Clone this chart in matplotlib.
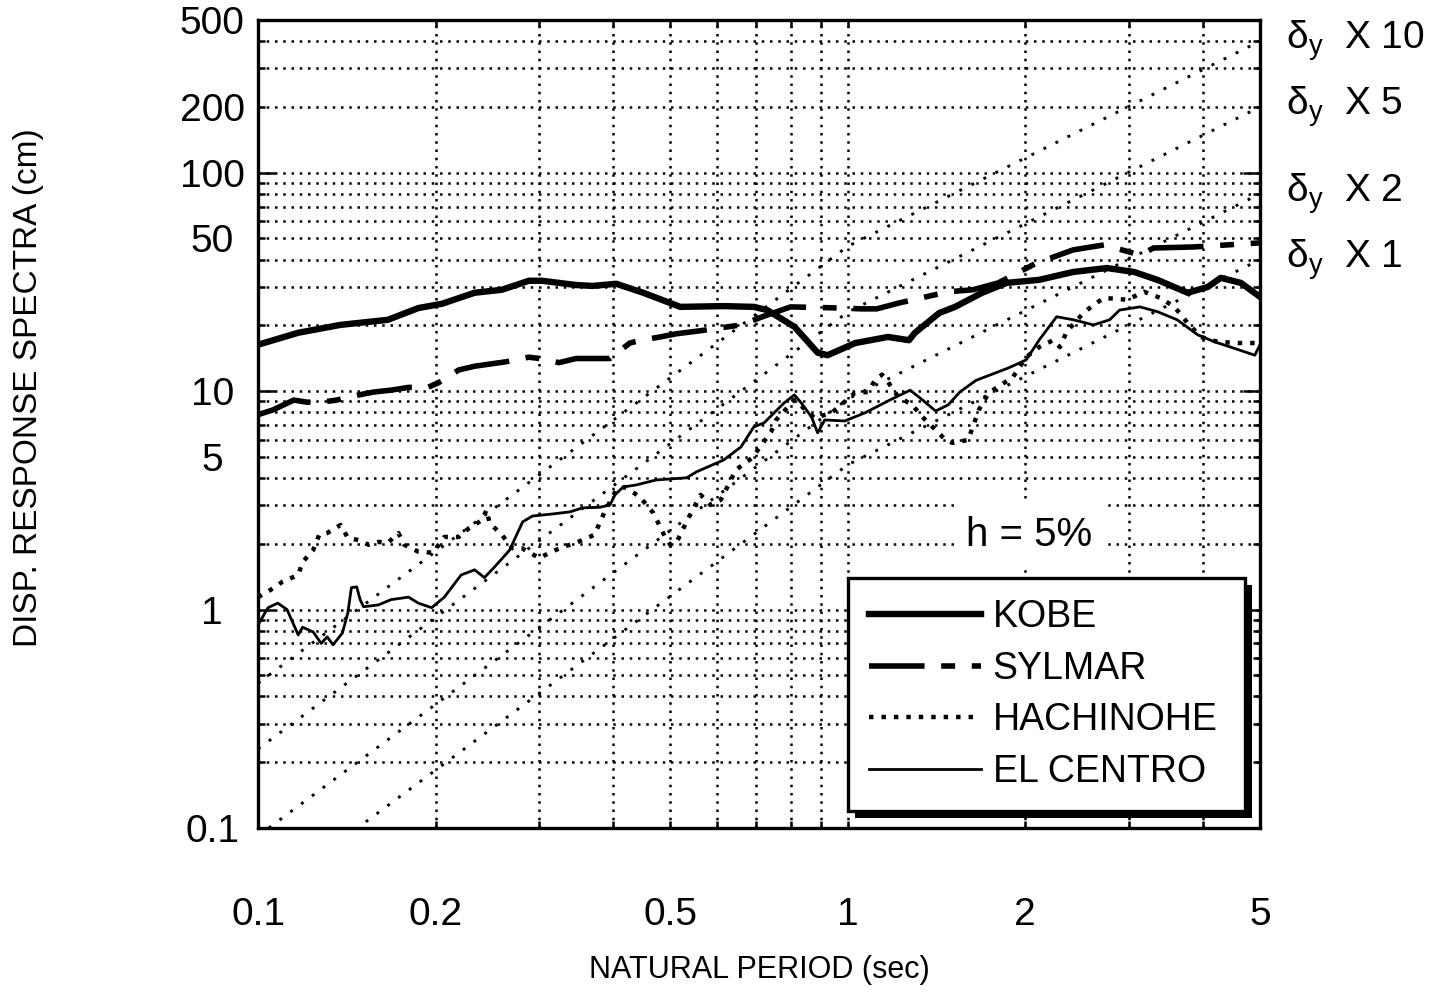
import matplotlib
matplotlib.use('Agg')
import matplotlib.pyplot as plt
from matplotlib.patches import Rectangle
from matplotlib.ticker import FixedLocator, FixedFormatter, FuncFormatter

plt.rcParams['font.family'] = ['Liberation Sans', 'DejaVu Sans']
plt.rcParams['mathtext.default'] = 'regular'

# natural period (sec) / displacement response (cm)
kobe_t = [0.100, 0.117, 0.138, 0.166, 0.187, 0.205, 0.233, 0.259, 0.288, 0.303,
          0.346, 0.369, 0.405, 0.450, 0.520, 0.616, 0.693, 0.730, 0.812, 0.889,
          0.924, 1.03, 1.17, 1.27, 1.30, 1.43, 1.52, 1.69, 1.86, 2.11,
          2.41, 2.75, 3.06, 3.35, 3.77, 4.08, 4.29, 4.64, 5.0]
kobe_d = [16.3, 18.5, 20.1, 21.2, 24.0, 25.1, 28.2, 29.1, 32.0, 32.0,
          30.6, 30.3, 31.0, 28.2, 24.3, 24.5, 24.3, 23.5, 19.7, 15.0,
          14.6, 16.6, 17.7, 17.1, 18.5, 22.8, 24.3, 28.2, 31.3, 32.3,
          35.1, 36.6, 35.1, 32.3, 28.2, 30.0, 33.0, 31.3, 27.0]

sylmar_t = [0.100, 0.106, 0.110, 0.115, 0.121, 0.128, 0.136, 0.148, 0.157, 0.168,
            0.180, 0.194, 0.202, 0.219, 0.233, 0.262, 0.288, 0.300, 0.324, 0.346,
            0.395, 0.427, 0.446, 0.481, 0.512, 0.563, 0.66, 0.72, 0.80, 0.977,
            1.055, 1.12, 1.22, 1.48, 1.63, 1.80, 2.09, 2.21, 2.41, 2.72,
            3.13, 3.30, 3.86, 5.00]
sylmar_d = [7.8, 8.2, 8.6, 9.1, 8.9, 8.9, 9.1, 9.6, 9.9, 10.1,
            10.4, 10.4, 10.9, 12.5, 13.0, 13.6, 14.3, 14.1, 13.5, 14.1,
            14.1, 16.6, 17.1, 17.7, 18.3, 18.9, 20.1, 22.0, 24.3, 24.0,
            23.8, 23.8, 25.3, 28.5, 29.1, 31.3, 38.6, 40.7, 44.3, 46.7,
            42.0, 45.2, 45.7, 47.7]

hachi_t = [0.100, 0.105, 0.110, 0.117, 0.119, 0.124, 0.127, 0.131, 0.138, 0.142,
           0.148, 0.154, 0.160, 0.166, 0.173, 0.177, 0.187, 0.198, 0.207, 0.219,
           0.228, 0.240, 0.244, 0.247, 0.259, 0.270, 0.280, 0.300, 0.312, 0.328,
           0.346, 0.372, 0.387, 0.405, 0.419, 0.444, 0.468, 0.490, 0.500, 0.512,
           0.537, 0.563, 0.585, 0.609, 0.624, 0.646, 0.688, 0.741, 0.756, 0.812,
           0.878, 0.939, 1.028, 1.082, 1.112, 1.143, 1.17, 1.218, 1.286, 1.338,
           1.392, 1.465, 1.506, 1.60, 1.668, 1.734, 1.906, 2.007, 2.11, 2.23,
           2.29, 2.35, 2.51, 2.61, 2.72, 2.98, 3.18, 3.39, 3.58, 3.77,
           3.97, 4.24, 4.59, 5.0]
hachi_d = [1.14, 1.23, 1.34, 1.44, 1.65, 1.87, 2.20, 2.24, 2.44, 2.13,
           2.08, 1.98, 2.04, 2.02, 2.24, 1.98, 1.84, 1.82, 2.15, 2.15,
           2.36, 2.57, 2.86, 2.49, 2.20, 1.91, 1.91, 1.72, 1.82, 1.93,
           2.02, 2.20, 2.80, 3.53, 3.64, 3.28, 2.77, 2.15, 1.98, 2.02,
           2.63, 3.35, 3.01, 3.18, 3.61, 4.36, 4.94, 6.50, 7.38, 9.12,
           7.54, 7.95, 9.81, 9.9, 11.2, 11.9, 11.0, 9.41, 8.65, 7.62,
           6.86, 5.98, 5.79, 5.98, 8.20, 9.81, 11.6, 14.3, 15.9, 17.1,
           15.9, 18.7, 22.8, 24.8, 26.7, 26.2, 28.5, 26.7, 24.3, 20.5,
           17.7, 16.8, 16.6, 16.6]

elc_t = [0.100, 0.104, 0.108, 0.112, 0.117, 0.119, 0.124, 0.128, 0.131, 0.134,
         0.139, 0.142, 0.144, 0.147, 0.149, 0.151, 0.160, 0.168, 0.180, 0.187,
         0.197, 0.207, 0.221, 0.233, 0.242, 0.252, 0.267, 0.281, 0.292, 0.316,
         0.338, 0.355, 0.380, 0.395, 0.403, 0.416, 0.438, 0.473, 0.533, 0.554,
         0.616, 0.659, 0.693, 0.721, 0.780, 0.812, 0.834, 0.868, 0.889, 0.914,
         0.988, 1.069, 1.189, 1.276, 1.338, 1.409, 1.48, 1.55, 1.65, 1.877,
         2.007, 2.11, 2.26, 2.415, 2.61, 2.78, 2.89, 3.13, 3.35, 3.62,
         3.92, 4.19, 4.46, 4.90, 5.0]
elc_d = [0.85, 1.02, 1.07, 1.00, 0.765, 0.83, 0.79, 0.70, 0.75, 0.69,
         0.78, 0.965, 1.26, 1.27, 1.11, 1.03, 1.05, 1.11, 1.14, 1.07,
         1.02, 1.14, 1.44, 1.52, 1.40, 1.57, 1.87, 2.52, 2.68, 2.74,
         2.80, 2.92, 2.94, 3.01, 3.35, 3.64, 3.72, 3.92, 4.01, 4.27,
         4.84, 5.55, 6.86, 7.15, 8.83, 9.61, 8.83, 7.62, 6.44, 7.38,
         7.30, 7.95, 9.21, 10.1, 9.12, 8.11, 8.65, 9.92, 11.2, 12.8,
         13.9, 17.1, 21.9, 21.2, 20.1, 21.2, 23.5, 24.3, 23.1, 21.2,
         18.1, 16.8, 15.9, 14.6, 16.3]

# yield displacement guide lines (delta_y x 10, x 5, x 2, x 1)
ref_t = [0.1, 1.0, 5.0]
ref_x10 = [0.46, 46, 400]
ref_x5 = [0.23, 23, 200]
ref_x2 = [0.092, 9.2, 80]
ref_x1 = [0.046, 4.6, 40]
ref_names = ['10', '5', '2', '1']

xticks_major = [0.1, 0.2, 0.5, 1, 2, 5]
xtick_labels = ['0.1', '0.2', '0.5', '1', '2', '5']
xticks_minor = [0.3, 0.4, 0.6, 0.7, 0.8, 0.9, 3, 4]
yticks_major = [0.1, 1, 10, 100]
ytick_labels = ['0.1', '1', '10', '100']
yticks_minor = [0.2, 0.3, 0.4, 0.5, 0.6, 0.7, 0.8, 0.9,
                2, 3, 4, 5, 6, 7, 8, 9,
                20, 30, 40, 50, 60, 70, 80, 90,
                200, 300, 400, 500]
yminor_labels = {5: '5', 50: '50', 200: '200', 500: '500'}

fig = plt.figure(figsize=(14.39, 9.94), dpi=100)
ax = fig.add_axes([0.1793, 0.167, 0.6963, 0.8129])
ax.set_xscale('log')
ax.set_yscale('log')
ax.set_xlim(0.1, 5)
ax.set_ylim(0.1, 500)

for vals in [ref_x10, ref_x5, ref_x2, ref_x1]:
    ax.plot(ref_t, vals, color='black', lw=2.1, ls=(0, (1, 3.6)), zorder=1.5)

ax.plot(kobe_t, kobe_d, color='black', lw=4.6, label='KOBE', zorder=3)
ax.plot(sylmar_t, sylmar_d, color='black', lw=4.0, ls=(0, (10, 3, 2.5, 3)),
        label='SYLMAR', zorder=3)
ax.plot(hachi_t, hachi_d, color='black', lw=3.2, ls=(0, (1, 1.8)),
        label='HACHINOHE', zorder=3)
ax.plot(elc_t, elc_d, color='black', lw=2.0, label='EL CENTRO', zorder=3)

ax.xaxis.set_major_locator(FixedLocator(xticks_major))
ax.xaxis.set_major_formatter(FixedFormatter(xtick_labels))
ax.xaxis.set_minor_locator(FixedLocator(xticks_minor))
ax.xaxis.set_minor_formatter(FuncFormatter(lambda v, p: ''))
ax.yaxis.set_major_locator(FixedLocator(yticks_major))
ax.yaxis.set_major_formatter(FixedFormatter(ytick_labels))
ax.yaxis.set_minor_locator(FixedLocator(yticks_minor))
ax.yaxis.set_minor_formatter(FuncFormatter(lambda v, p: yminor_labels.get(round(v), '')))

ax.grid(True, which='both', color='black', lw=1.8, ls=(0, (1, 2.3)))
ax.set_axisbelow(True)
for s in ax.spines.values():
    s.set_linewidth(2.4)

ax.tick_params(which='both', direction='in', top=True, right=True,
               labelsize=28, width=1.8)
ax.tick_params(axis='x', which='major', length=5, pad=50)
ax.tick_params(axis='x', which='minor', length=5)
ax.tick_params(axis='y', which='major', length=12, pad=33)
ax.tick_params(axis='y', which='minor', length=5, pad=33)
for lab in ax.get_yticklabels(which='both'):
    lab.set_horizontalalignment('center')

# right-hand labels for the guide lines
for name, vals in zip(ref_names, [ref_x10, ref_x5, ref_x2, ref_x1]):
    ax.text(1.026, vals[-1], r'$\delta_y$' + '  X ' + name,
            transform=ax.get_yaxis_transform(), fontsize=28,
            ha='left', va='center', clip_on=False)

ax.text(0.770, 0.362, 'h = 5%', transform=ax.transAxes, fontsize=29,
        ha='center', va='center', zorder=4,
        bbox=dict(boxstyle='square,pad=0.3', fc='white', ec='none'))

leg = ax.legend(loc='upper left', bbox_to_anchor=(0.589, 0.025, 0.396, 0.284),
                mode='expand', borderaxespad=0, fontsize=27, handlelength=3.0,
                handletextpad=0.3, labelspacing=0.42, borderpad=0.55,
                fancybox=False, framealpha=1, edgecolor='black')
leg.get_frame().set_linewidth(2.4)
leg.set_zorder(6)

fig.text(0.0195, 0.61, 'DISP. RESPONSE SPECTRA (cm)', rotation=90,
         ha='center', va='center', fontsize=24)
fig.text(0.528, 0.024, 'NATURAL PERIOD (sec)', ha='center', va='center',
         fontsize=22)

# solid drop shadow under the legend box
fig.canvas.draw()
bb = leg.get_frame().get_window_extent()
shadow = Rectangle((bb.x0 + 7, bb.y0 - 7), bb.width, bb.height,
                   transform=None, facecolor='black', edgecolor='none',
                   zorder=5.9, clip_on=False)
ax.add_artist(shadow)

fig.savefig('out.png', dpi=100)
